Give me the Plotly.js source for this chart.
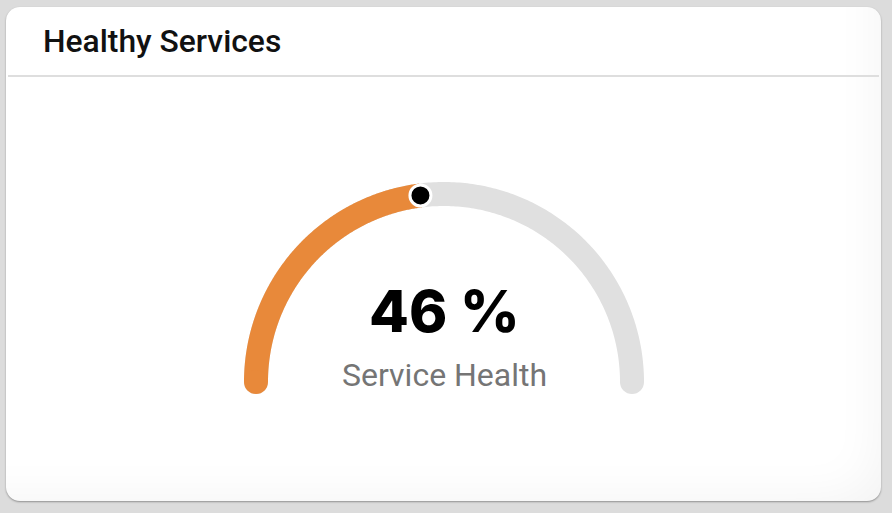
<!DOCTYPE html>
<html>
<head>
<meta charset="utf-8">
<script src="https://cdn.plot.ly/plotly-3.0.1.min.js"></script>
<style>
  html, body { margin:0; padding:0; width:892px; height:513px; background:#dcdcdc; overflow:hidden; }
  #card { position:absolute; left:6px; top:7px; width:875px; height:494px; border-radius:14px;
          background:#ffffff; box-shadow: 0 1px 2px rgba(0,0,0,0.35), inset -40px -40px 50px -40px rgba(0,0,0,0.05); }
  #divider { position:absolute; left:8px; top:75px; width:871px; height:2px; background:#dedede; }
  #chart { position:absolute; left:0; top:0; width:892px; height:513px; }
</style>
</head>
<body>
<div id="card"></div>
<div id="divider"></div>
<div id="chart"></div>
<script>
// ---- data ----
const cardTitle = 'Healthy Services';
const metricName = 'Service Health';
const gaugeValue = [46];
const gaugeRange = [0, 100];
const valueSuffix = ' %';

// ---- styling ----
const W = 892, H = 513;
const cx = 444, cy = 382, R = 188; // pixel centre / radius of gauge centre-line
const orange = '#e8893a', grey = '#e0e0e0', strokeW = 24;

function angleFor(v) { return Math.PI * (1 - (v - gaugeRange[0]) / (gaugeRange[1] - gaugeRange[0])); }
function arc(v0, v1, n) {
  const xs = [], ys = [];
  for (let i = 0; i <= n; i++) {
    const v = v0 + (v1 - v0) * i / n;
    const a = angleFor(v);
    xs.push(Math.cos(a)); ys.push(Math.sin(a));
  }
  return {x: xs, y: ys};
}
const v = gaugeValue[0];
const bg = arc(gaugeRange[0], gaugeRange[1], 240);
const fg = arc(gaugeRange[0], v, 240);
const endA = angleFor(v);

const traces = [
  {type:'scatter', mode:'lines', x:bg.x, y:bg.y, line:{color:grey, width:strokeW, simplify:false}, hoverinfo:'skip'},
  {type:'scatter', mode:'markers', x:[bg.x[0], bg.x[bg.x.length-1]], y:[bg.y[0], bg.y[bg.y.length-1]],
   marker:{color:grey, size:strokeW, line:{width:0}}, hoverinfo:'skip'},
  {type:'scatter', mode:'lines', x:fg.x, y:fg.y, line:{color:orange, width:strokeW, simplify:false}, hoverinfo:'skip'},
  {type:'scatter', mode:'markers', x:[fg.x[0]], y:[fg.y[0]],
   marker:{color:orange, size:strokeW, line:{width:0}}, hoverinfo:'skip'},
  {type:'scatter', mode:'markers', x:[Math.cos(endA)], y:[Math.sin(endA)],
   marker:{color:'#000000', size:21, line:{color:'#ffffff', width:3}}, hoverinfo:'skip'}
];

const layout = {
  width: W, height: H,
  margin:{l:0, r:0, t:0, b:0},
  paper_bgcolor:'rgba(0,0,0,0)', plot_bgcolor:'rgba(0,0,0,0)',
  showlegend:false,
  font:{family:'Roboto, sans-serif'},
  title:{text:cardTitle, x:43/W, xanchor:'left', xref:'paper', yref:'container', y:1-41/H, yanchor:'middle',
         font:{family:'Roboto', size:31.8, color:'#111111', weight:500}},
  xaxis:{range:[-cx/R, (W-cx)/R], visible:false, fixedrange:true},
  yaxis:{range:[-(H-cy)/R, cy/R], visible:false, fixedrange:true},
  annotations:[
    {text: v + valueSuffix, x:0, y:(cy-311)/R, xref:'x', yref:'y', xanchor:'center', yanchor:'middle', showarrow:false,
     font:{family:'Inter', size:58, color:'#000000', weight:800}},
    {text: metricName, x:0, y:(cy-375)/R, xref:'x', yref:'y', xanchor:'center', yanchor:'middle', showarrow:false,
     font:{family:'Roboto', size:32, color:'#757575'}}
  ]
};

Plotly.newPlot('chart', traces, layout, {displayModeBar:false, staticPlot:true});
</script>
</body>
</html>
